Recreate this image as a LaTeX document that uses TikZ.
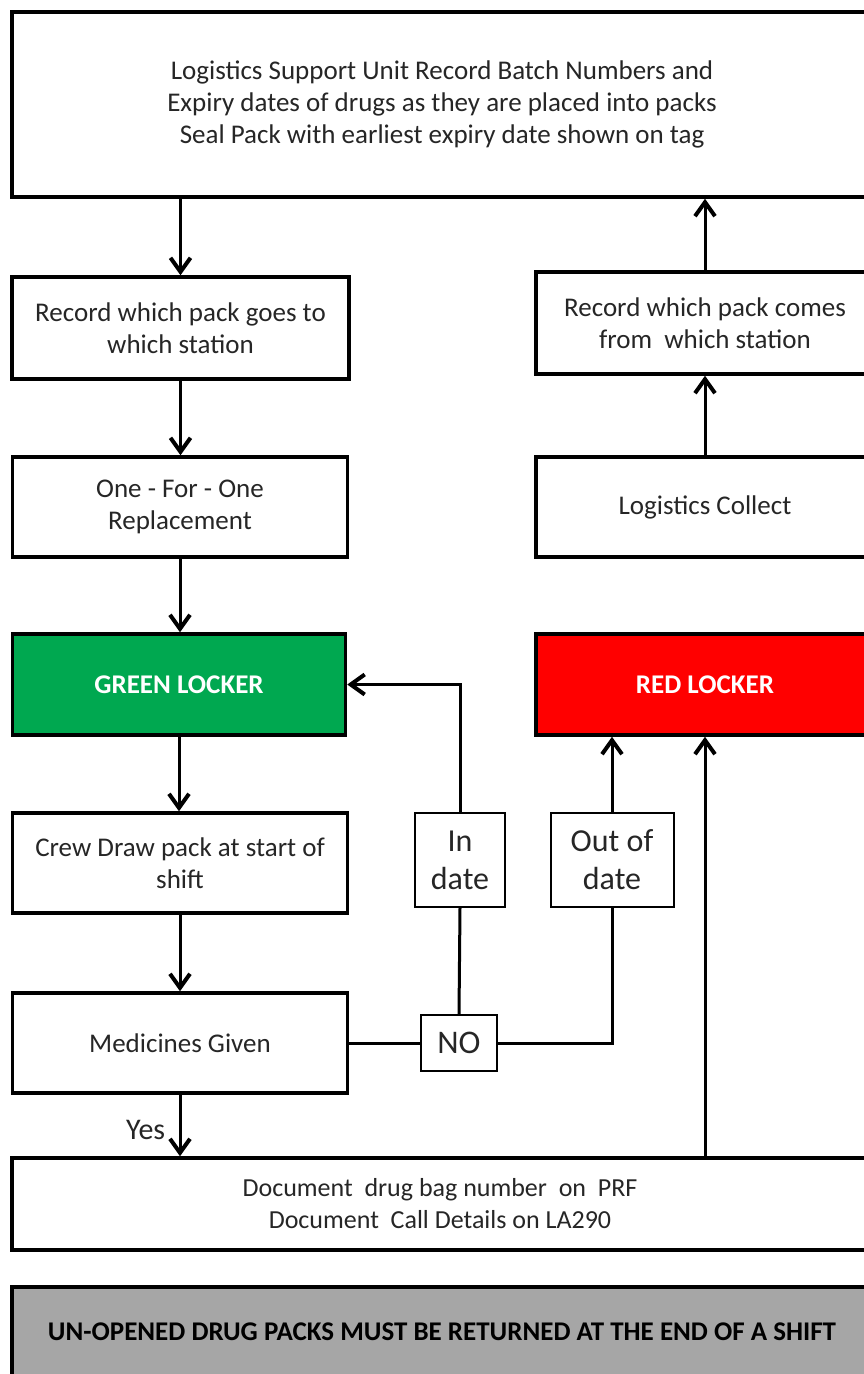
\documentclass[tikz,border=0pt]{standalone}
\usepackage{fontspec}
\setmainfont{Carlito}
\usetikzlibrary{arrows.meta}
\definecolor{txt}{RGB}{38,38,38}
\definecolor{grn}{RGB}{0,168,80}
\definecolor{rd}{RGB}{255,0,0}
\definecolor{gry}{RGB}{166,166,166}
\tikzset{
  box/.style={draw=black, line width=3.5pt, rectangle, inner sep=0pt, align=center,
    text=txt, font=\fontsize{27}{32}\selectfont},
  lbl/.style={draw=black, line width=2pt, fill=white, rectangle, inner sep=0pt, align=center,
    text=txt, font=\fontsize{32}{38}\selectfont},
  lock/.style={box, text=white, font=\bfseries\fontsize{27}{32}\selectfont},
  conn/.style={line width=3pt, black},
  arr/.style={conn, -{Straight Barb[length=14pt,width=20pt,line width=4pt]}},
}
\begin{document}
\begin{tikzpicture}[x=1pt,y=-1pt]
\useasboundingbox (0,0) rectangle (864,1374);
\clip (0,0) rectangle (864,1374);
\fill[white] (0,0) rectangle (864,1374);
% left column
\node[box, minimum width=860, minimum height=185] (top) at (442,104.5)
  {Logistics Support Unit Record Batch Numbers and\\Expiry dates of drugs as they are placed into packs\\Seal Pack with earliest expiry date shown on tag};
\node[box, minimum width=337, minimum height=102] (rg) at (180.5,328) {Record which pack goes to\\which station};
\node[box, minimum width=335, minimum height=100] (ofo) at (180,507) {One - For - One\\Replacement};
\node[lock, fill=grn, minimum width=333, minimum height=101] (green) at (179,684.5) {GREEN LOCKER};
\node[box, minimum width=335, minimum height=100] (crew) at (180,863) {Crew Draw pack at start of\\shift};
\node[box, minimum width=335, minimum height=100] (med) at (180,1043) {Medicines Given};
\node[box, minimum width=856, minimum height=92, font=\fontsize{26}{32}\selectfont] (doc) at (440,1204)
  {Document\ \ drug bag number\ \ on\ \ PRF\\Document\ \ Call Details on LA290};
\node[box, fill=gry, minimum width=860, minimum height=90, text=black,
  font=\bfseries\fontsize{27}{32}\selectfont] (note) at (442,1332)
  {UN-OPENED DRUG PACKS MUST BE RETURNED AT THE END OF A SHIFT};
% right column
\node[box, minimum width=338, minimum height=102] (rc) at (705,323) {Record which pack comes\\from\ \ which station};
\node[box, minimum width=338, minimum height=100] (lc) at (705,507) {Logistics Collect};
\node[lock, fill=rd, minimum width=338, minimum height=101] (red) at (705,684.5) {RED LOCKER};
% decision labels
\node[lbl, minimum width=76, minimum height=56, font=\fontsize{33}{38}\selectfont] (no) at (459,1043) {NO};
\node[lbl, minimum width=90, minimum height=94] (indate) at (460,860) {In\\date};
\node[lbl, minimum width=123, minimum height=94] (outdate) at (612,860) {Out of\\date};
% connectors
\draw[arr] (top.south -| rg.north) -- (rg.north);
\draw[arr] (rg.south) -- (rg.south |- ofo.north);
\draw[arr] (ofo.south) -- (ofo.south |- green.north);
\draw[arr] (green.south) -- (green.south |- crew.north);
\draw[arr] (crew.south) -- (crew.south |- med.north);
\draw[arr] (med.south) -- (med.south |- doc.north)
  node[pos=0.58, left=10pt, text=txt, font=\fontsize{30}{34}\selectfont] {Yes};
\draw[arr] (lc.north) -- (rc.south);
\draw[arr] (rc.north) -- (rc.north |- top.south);
\draw[arr] (doc.north -| red.south) -- (red.south);
\draw[conn] (med.east) -- (no.west);
\draw[conn] (no.north) -- (indate.south);
\draw[arr] (indate.north) |- (green.east);
\draw[conn] (no.east) -| (outdate.south);
\draw[arr] (outdate.north) -- (outdate.north |- red.south);
\end{tikzpicture}
\end{document}
